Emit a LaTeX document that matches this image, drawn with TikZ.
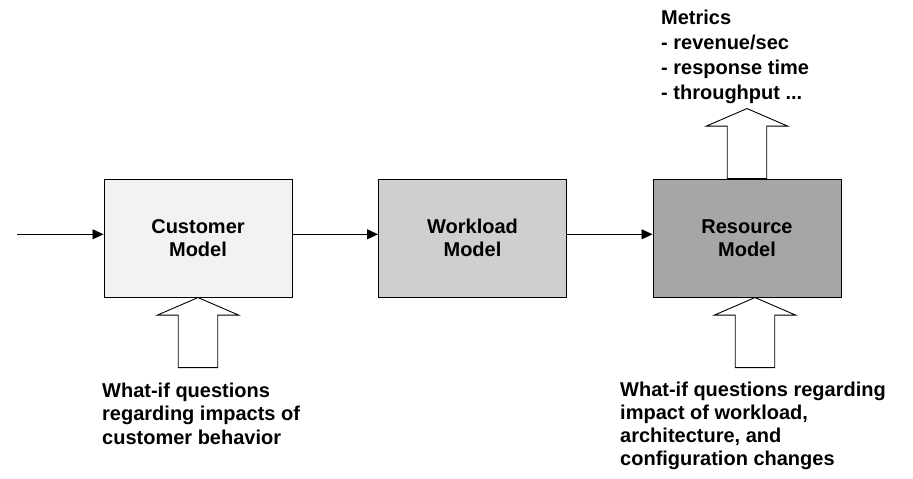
\documentclass[tikz,border=0pt]{standalone}
\usepackage{fontspec}
\setmainfont{Liberation Sans}
\usetikzlibrary{arrows.meta,calc}

\tikzset{
  modelbox/.style={draw=black, line width=1pt, minimum width=188pt, minimum height=117.7pt,
    inner sep=0pt, align=center, font=\fontsize{20}{23}\selectfont\bfseries},
  flow/.style={line width=0.9pt, -{Triangle[length=11pt,width=10pt]}},
  blockarrow/.style={draw=black, line width=0.9pt, fill=white, line join=miter},
  note/.style={inner sep=0pt, anchor=north west, align=left},
  % hollow block arrow: tip at the pic origin, body extending in +y (downwards here)
  hollowarrow/.pic={
    \path[blockarrow] (0,0) -- (40.5,17.5) -- (19.75,17.5) -- (19.75,70) -- (-19.75,70)
      -- (-19.75,17.5) -- (-40.5,17.5) -- cycle;
  }
}

\begin{document}
\begin{tikzpicture}[x=1pt, y=-1pt]
  \useasboundingbox (0,0) rectangle (913,479);

  % the three model stages
  \node[modelbox, fill={rgb,255:red,242;green,242;blue,242}] (cust) at (198,238.2) {Customer\\Model};
  \node[modelbox, fill={rgb,255:red,207;green,207;blue,207}] (work) at (472.5,238.2) {Workload\\Model};
  \node[modelbox, fill={rgb,255:red,166;green,166;blue,166}] (res) at (747,238.2) {Resource\\Model};

  % flow between stages
  \coordinate (in) at (17,234.3);
  \draw[flow] (in) -- (in -| cust.west);
  \draw[flow] (cust.east |- in) -- (in -| work.west);
  \draw[flow] (work.east |- in) -- (in -| res.west);

  % hollow arrows: what-if inputs and metric output
  \pic at (cust.south) {hollowarrow};
  \pic at ($(res.south)+(8,0)$) {hollowarrow};
  \pic at ($(res.north)+(0,-70.3)$) {hollowarrow};

  % annotations
  \node[note, font=\fontsize{20}{25}\selectfont\bfseries] (metrics) at (661,9.6)
    {Metrics\\- revenue/sec\\- response time\\- throughput ...};
  \node[note, font=\fontsize{20}{23.5}\selectfont\bfseries] (custq) at (102,382.8)
    {What-if questions\\regarding impacts of\\customer behavior};
  \node[note, font=\fontsize{20}{23}\selectfont\bfseries] (resq) at (620,382.2)
    {What-if questions regarding\\impact of workload,\\architecture, and\\configuration changes};
\end{tikzpicture}
\end{document}
